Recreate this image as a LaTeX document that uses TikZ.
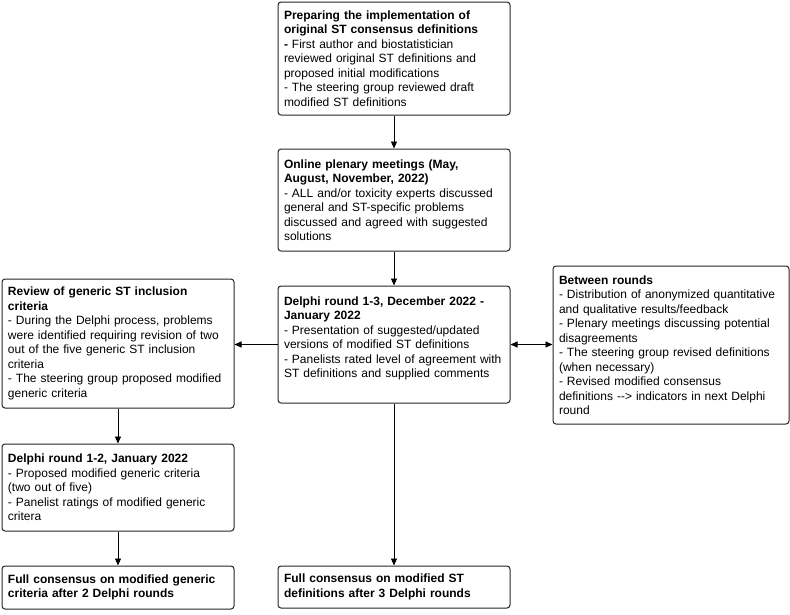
\documentclass[tikz,border=0pt]{standalone}
\usepackage{fontspec}
\setmainfont{Liberation Sans}
\usepackage{tikz}
\usetikzlibrary{arrows.meta}

\tikzset{
  stepbox/.style={draw=black!85, line width=1pt, rounded corners=3pt, fill=white,
    font=\fontsize{12}{14.5}\selectfont, align=left, text width=220pt,
    inner xsep=6pt, inner ysep=0pt},
  flow/.style={line width=0.9pt, -{Triangle[length=7pt,width=6pt]}},
  twoway/.style={line width=0.9pt, {Triangle[length=7pt,width=6pt]}-{Triangle[length=7pt,width=6pt]}}
}

\begin{document}
\begin{tikzpicture}[x=1pt,y=-1pt]
\useasboundingbox (0,0) rectangle (790,614);

\node[stepbox, minimum height=113pt] (prep) at (394,58.5)
  {\textbf{Preparing the implementation of}\\
   \textbf{original ST consensus definitions}\\
   \textbf{-} First author and biostatistician\\
   reviewed original ST definitions and\\
   proposed initial modifications\\
   - The steering group reviewed draft\\
   modified ST definitions};

\node[stepbox, minimum height=102pt] (online) at (394,200)
  {\textbf{Online plenary meetings (May,}\\
   \textbf{August, November, 2022)}\\
   - ALL and/or toxicity experts discussed\\
   general and ST-specific problems\\
   discussed and agreed with suggested\\
   solutions};

\node[stepbox, minimum height=117pt] (delphi3) at (394,344.5)
  {\textbf{Delphi round 1-3, December 2022 -}\\
   \textbf{January 2022}\\
   - Presentation of suggested/updated\\
   versions of modified ST definitions\\
   - Panelists rated level of agreement with\\
   ST definitions and supplied comments\\
   \mbox{}};

\node[stepbox, minimum height=129pt] (review) at (118,343.5)
  {\textbf{Review of generic ST inclusion}\\
   \textbf{criteria}\\
   - During the Delphi process, problems\\
   were identified requiring revision of two\\
   out of the five generic ST inclusion\\
   criteria\\
   - The steering group proposed modified\\
   generic criteria};

\node[stepbox, text width=224pt, minimum height=158pt] (between) at (671,345)
  {\textbf{Between rounds}\\
   - Distribution of anonymized quantitative\\
   and qualitative results/feedback\\
   - Plenary meetings discussing potential\\
   disagreements\\
   - The steering group revised definitions\\
   (when necessary)\\
   - Revised modified consensus\\
   definitions -{}-{}> indicators in next Delphi\\
   round};

\node[stepbox, minimum height=87pt] (delphi2) at (118,487.5)
  {\textbf{Delphi round 1-2, January 2022}\\
   - Proposed modified generic criteria\\
   (two out of five)\\
   - Panelist ratings of modified generic\\
   critera};

\node[stepbox, minimum height=43pt] (fullgen) at (118,587.5)
  {\textbf{Full consensus on modified generic}\\
   \textbf{criteria after 2 Delphi rounds}};

\node[stepbox, minimum height=42pt] (fullst) at (394,587)
  {\textbf{Full consensus on modified ST}\\
   \textbf{definitions after 3 Delphi rounds}};

\draw[flow] (prep) -- (online);
\draw[flow] (online) -- (delphi3);
\draw[flow] (delphi3) -- (fullst);
\draw[flow] (delphi3.west) -- (delphi3.west -| review.east);
\draw[twoway] (delphi3.east) -- (delphi3.east -| between.west);
\draw[flow] (review) -- (delphi2);
\draw[flow] (delphi2) -- (fullgen);
\end{tikzpicture}
\end{document}
